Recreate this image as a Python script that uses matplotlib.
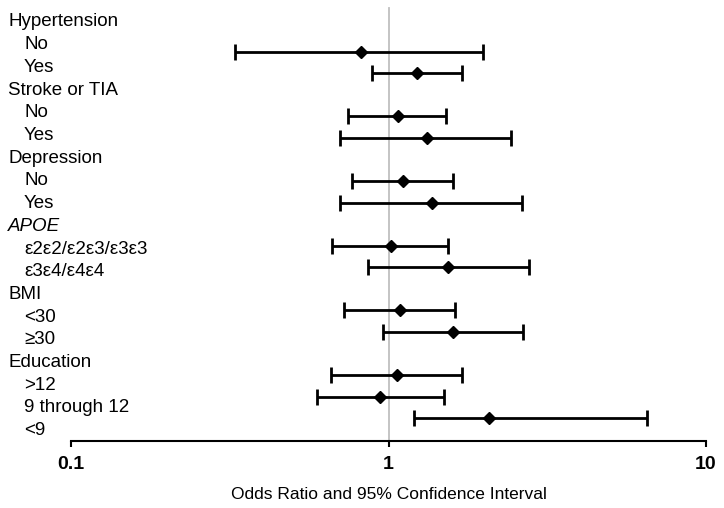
import numpy as np
import matplotlib
matplotlib.use('Agg')
import matplotlib.pyplot as plt
from matplotlib import rcParams

rcParams['font.family'] = ['Liberation Sans', 'DejaVu Sans']
rcParams['font.size'] = 13.5

# Row labels, top to bottom (headers have no estimate)
labels = ['Hypertension', 'No', 'Yes',
          'Stroke or TIA', 'No', 'Yes',
          'Depression', 'No', 'Yes',
          'APOE', 'ε2ε2/ε2ε3/ε3ε3', 'ε3ε4/ε4ε4',
          'BMI', '<30', '≥30',
          'Education', '>12', '9 through 12', '<9']
is_header = [True, False, False,
             True, False, False,
             True, False, False,
             True, False, False,
             True, False, False,
             True, False, False, False]

# Odds ratios and 95% CI for the non-header rows
odds = [0.82, 1.23, 1.07, 1.32, 1.11, 1.37, 1.015, 1.535, 1.09, 1.60, 1.06, 0.94, 2.07]
ci_low = [0.328, 0.886, 0.746, 0.706, 0.766, 0.706, 0.666, 0.859, 0.725, 0.959, 0.658, 0.597, 1.20]
ci_high = [1.99, 1.70, 1.52, 2.43, 1.60, 2.64, 1.54, 2.77, 1.615, 2.65, 1.70, 1.50, 6.5]

fig = plt.figure(figsize=(7.24, 5.08), dpi=100)
ax = fig.add_axes([71 / 724, 67 / 508, 635 / 724, 441 / 508])

rows = [i for i, h in enumerate(is_header) if not h]
odds = np.array(odds)
err = [odds - np.array(ci_low), np.array(ci_high) - odds]

ax.axvline(1, ymin=0, ymax=0.982, color='#BFBFBF', linewidth=1.3, zorder=1)
ax.errorbar(odds, rows, xerr=err, fmt='D', color='black', markersize=6.5,
            elinewidth=2, capsize=6, capthick=2, zorder=3)

ax.set_xscale('log')
ax.set_xlim(0.1, 10)
ax.set_ylim(19.056, -1.398)
ax.set_xticks([0.1, 1, 10])
ax.set_xticklabels(['0.1', '1', '10'], fontweight='bold', fontsize=14)
ax.xaxis.set_minor_locator(matplotlib.ticker.NullLocator())
ax.tick_params(axis='x', direction='out', length=4, width=1.5, pad=7)
ax.set_yticks([])
for s in ['top', 'right', 'left']:
    ax.spines[s].set_visible(False)
ax.spines['bottom'].set_linewidth(1.5)
ax.set_xlabel('Odds Ratio and 95% Confidence Interval', fontsize=12.5, labelpad=10)

# Category labels in their own column
for i, (lab, h) in enumerate(zip(labels, is_header)):
    ypix = 22 + 22.7 * i
    xpix = 8 if h else 24
    style = 'italic' if lab == 'APOE' else 'normal'
    fig.text(xpix / 724, 1 - ypix / 508, lab, ha='left', va='center',
             fontsize=13.5, fontstyle=style)

fig.savefig('out.png', dpi=100)
